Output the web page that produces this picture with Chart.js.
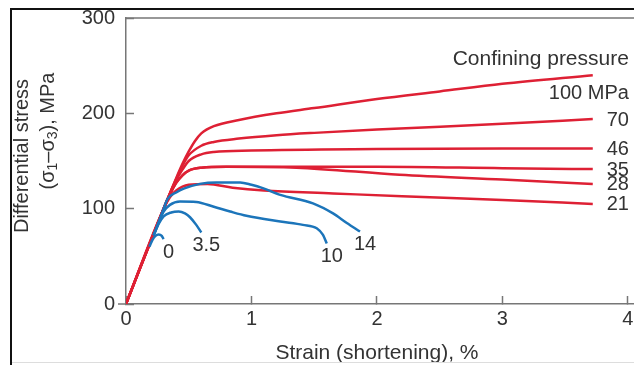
<!DOCTYPE html>
<html>
<head>
<meta charset="utf-8">
<script src="https://cdn.jsdelivr.net/npm/chart.js@4/dist/chart.umd.min.js"></script>
<style>
  html, body { margin: 0; padding: 0; background: #fff; overflow: hidden; width: 634px; height: 365px; }
  #wrap { position: relative; width: 634px; height: 365px; overflow: hidden; }
  #frame { position: absolute; left: 10px; top: 8px; width: 700px; height: 400px;
           border-top: 2px solid #111; border-left: 2px solid #111; }
  #foot { position: absolute; left: 12px; top: 362px; width: 700px; height: 1px; background: #ddd; }
  #chart { position: absolute; left: 0; top: 0; }
</style>
</head>
<body>
<div id="wrap">
  <canvas id="chart" width="680" height="365"></canvas>
  <div id="frame"></div>
  <div id="foot"></div>
</div>
<script>
// stress-strain curves, [strain %, differential stress MPa]
var red100 = [[0,0],[0.3,100],[0.35,116],[0.4,132],[0.45,147],[0.5,160],[0.55,171],[0.6,179],[0.7,186.5],[0.9,193],[1.2,200],[1.5,205.5],[2,215],[2.5,223],[3,231],[3.72,240]];
var red70  = [[0,0],[0.3,100],[0.35,116],[0.4,131],[0.45,145],[0.5,156],[0.6,166],[0.7,170],[0.9,173.5],[1.2,177],[1.5,179.5],[2,183],[3,189],[3.72,194]];
var red46  = [[0,0],[0.3,100],[0.35,116],[0.4,130],[0.45,141],[0.5,150],[0.6,157],[0.7,159.5],[1,161],[2,162.5],[3,163],[3.72,163]];
var red35  = [[0,0],[0.3,100],[0.35,115],[0.4,127],[0.45,135],[0.5,140],[0.6,143],[0.8,144],[1.4,144],[2,144],[3,142.5],[3.72,141.5]];
var red28  = [[0,0],[0.3,100],[0.35,115],[0.4,127],[0.45,135],[0.5,140],[0.6,143],[0.8,144],[1.36,143],[2.18,135.5],[3,130.5],[3.72,126]];
var red21  = [[0,0],[0.3,100],[0.35,112],[0.4,119],[0.5,125],[0.65,126],[0.85,122],[1.1,119],[1.65,116],[2.2,113],[3,109],[3.72,105]];

var blue0  = [[0.186,60],[0.21,67],[0.235,71.5],[0.26,73],[0.285,71.5],[0.3,68]];
var blue35 = [[0.22,72],[0.26,84],[0.3,92],[0.36,96],[0.42,97],[0.47,95],[0.51,91],[0.56,83],[0.6,75]];
var blue10 = [[0.22,72],[0.26,85],[0.3,97],[0.35,104],[0.43,107.5],[0.56,107],[0.7,102],[0.83,97],[0.96,92.5],[1.23,86.5],[1.41,83],[1.52,79.4],[1.57,72.4],[1.6,63.5]];
var blue14 = [[0.22,72],[0.26,86],[0.3,100],[0.33,110],[0.4,117],[0.46,121],[0.59,126],[0.72,127.5],[0.91,127.5],[1,125],[1.09,121.5],[1.23,114.5],[1.49,105.5],[1.65,95],[1.76,85],[1.865,76]];

var redCurves = [red100, red70, red46, red35, red28, red21];
var redNames = ['100 MPa', '70', '46', '35', '28', '21'];
var blueCurves = [blue0, blue35, blue10, blue14];
var blueNames = ['0', '3.5', '10', '14'];

var xTicks = [0, 1, 2, 3, 4];
var yTicks = [0, 100, 200, 300];

var RED = 'rgb(222,32,52)';
var BLUE = 'rgb(28,117,186)';
var AXIS = '#777';
var INK = '#333';
var FONT = '"Liberation Sans", Arial, Helvetica, sans-serif';

function toPoints(arr) {
  return arr.map(function (p) { return { x: p[0], y: p[1] }; });
}

var datasets = [];
blueCurves.forEach(function (c, i) {
  datasets.push({ label: blueNames[i], data: toPoints(c), borderColor: BLUE, order: 0 });
});
redCurves.forEach(function (c, i) {
  datasets.push({ label: redNames[i], data: toPoints(c), borderColor: RED, order: 1 });
});

// curve labels, axis titles and the extra frame lines
var annotate = {
  id: 'annotate',
  afterDraw: function (chart) {
    var ctx = chart.ctx, a = chart.chartArea, xs = chart.scales.x, ys = chart.scales.y;
    ctx.save();

    ctx.strokeStyle = AXIS;
    ctx.lineWidth = 1.5;
    ctx.beginPath();
    ctx.moveTo(a.left, a.top); ctx.lineTo(a.right, a.top); ctx.lineTo(a.right, a.bottom);
    ctx.moveTo(a.left - 8, a.bottom); ctx.lineTo(a.left, a.bottom);
    ctx.stroke();

    ctx.fillStyle = INK;
    ctx.font = '20px ' + FONT;
    ctx.textBaseline = 'middle';

    // confining pressure labels at the right end of the red curves
    ctx.textAlign = 'right';
    var xr = xs.getPixelForValue(4) + 1;
    redCurves.forEach(function (c, i) {
      var last = c[c.length - 1];
      var py = ys.getPixelForValue(last[1]) + 1;
      if (i === 0) {
        ctx.fillText(redNames[i], xr, py + 17);
        ctx.font = '21px ' + FONT;
        ctx.fillText('Confining pressure', xr, py - 17);
        ctx.font = '20px ' + FONT;
      } else {
        ctx.fillText(redNames[i], xr, py);
      }
    });

    // labels under the ends of the blue curves
    ctx.textAlign = 'center';
    blueCurves.forEach(function (c, i) {
      var last = c[c.length - 1];
      ctx.fillText(blueNames[i], xs.getPixelForValue(last[0]) + 5, ys.getPixelForValue(last[1]) + 13);
    });

    // x axis title
    ctx.font = '21px ' + FONT;
    ctx.fillText('Strain (shortening), %', (a.left + xs.getPixelForValue(4)) / 2, 353);
    ctx.font = '20px ' + FONT;

    // y axis title, two rotated lines
    ctx.save();
    ctx.translate(22, 156);
    ctx.rotate(-Math.PI / 2);
    ctx.fillText('Differential stress', 0, 0);
    ctx.restore();

    ctx.save();
    ctx.translate(48, 131);
    ctx.rotate(-Math.PI / 2);
    var parts = [['(\u03c3', 0], ['1', 1], ['\u2013\u03c3', 0], ['3', 1], ['), MPa', 0]];
    var total = 0;
    parts.forEach(function (p) {
      ctx.font = (p[1] ? '14px ' : '20px ') + FONT;
      total += ctx.measureText(p[0]).width;
    });
    var cx = -total / 2;
    ctx.textAlign = 'left';
    parts.forEach(function (p) {
      ctx.font = (p[1] ? '14px ' : '20px ') + FONT;
      ctx.fillText(p[0], cx, p[1] ? 5 : 0);
      cx += ctx.measureText(p[0]).width;
    });
    ctx.restore();

    ctx.restore();
  }
};

function noEdgePadding(s) {
  s.paddingTop = 0; s.paddingBottom = 0; s.paddingLeft = 0; s.paddingRight = 0;
}

var ctx = document.getElementById('chart').getContext('2d');
var chart = new Chart(ctx, {
  type: 'line',
  data: { datasets: datasets },
  plugins: [annotate],
  options: {
    responsive: false,
    animation: false,
    layout: { padding: { top: 18, right: 27, left: 0, bottom: 0 } },
    plugins: { legend: { display: false }, tooltip: { enabled: false } },
    elements: {
      point: { radius: 0 },
      line: { borderWidth: 2.5, cubicInterpolationMode: 'monotone', fill: false }
    },
    scales: {
      x: {
        type: 'linear', min: 0, max: 4.2,
        afterBuildTicks: function (s) { s.ticks = xTicks.map(function (v) { return { value: v }; }); },
        afterFit: function (s) { s.height = 61; noEdgePadding(s); },
        ticks: { color: INK, font: { family: FONT, size: 20 }, padding: 11, maxRotation: 0 },
        grid: { drawOnChartArea: false, tickLength: -8, color: AXIS, tickWidth: 1.5 },
        border: { color: AXIS, width: 1.5 }
      },
      y: {
        type: 'linear', min: 0, max: 300,
        afterBuildTicks: function (s) { s.ticks = yTicks.map(function (v) { return { value: v }; }); },
        afterFit: function (s) { s.width = 126; noEdgePadding(s); },
        ticks: { color: INK, font: { family: FONT, size: 20 }, padding: 19 },
        grid: { drawOnChartArea: false, tickLength: -8, color: AXIS, tickWidth: 1.5 },
        border: { color: AXIS, width: 1.5 }
      }
    }
  }
});
</script>
</body>
</html>
